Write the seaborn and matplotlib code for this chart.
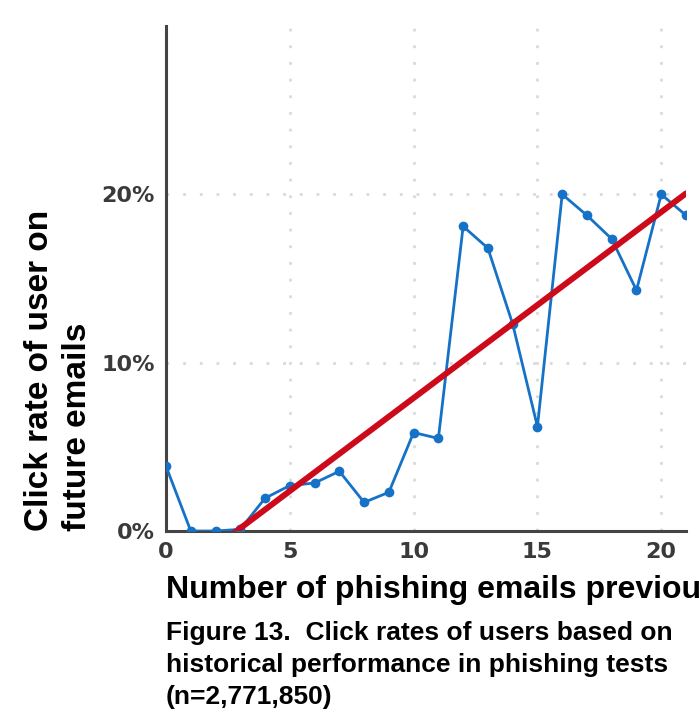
import numpy as np
import pandas as pd
import seaborn as sns
import matplotlib.pyplot as plt
from matplotlib.ticker import FuncFormatter

sns.set_theme(style="white")
plt.rcParams["font.family"] = ["Liberation Sans", "DejaVu Sans"]

# values (click rate in %)
emails_failed = list(range(22))
click_rate = [3.85, 0.0, 0.0, 0.1, 1.95, 2.7, 2.85, 3.55, 1.7, 2.3, 5.85, 5.5,
              18.1, 16.8, 12.3, 6.2, 20.0, 18.75, 17.35, 14.3, 20.0, 18.75]
trend_slope = 1.105
trend_intercept = -3.15

x_ticks = [0, 5, 10, 15, 20]
y_ticks = [0, 10, 20]

df = pd.DataFrame({"n": emails_failed, "rate": click_rate})
trend = pd.DataFrame({"n": [0, 21]})
trend["rate"] = trend_intercept + trend_slope * trend["n"]

fig = plt.figure(figsize=(6.99, 7.18), dpi=100)
ax = fig.add_axes([166 / 699, 1 - 531 / 718, (686 - 166) / 699, (531 - 26) / 718])

sns.lineplot(data=df, x="n", y="rate", ax=ax, color="#1572c6", linewidth=2,
             marker="o", markersize=7, markeredgewidth=0, zorder=3)
sns.lineplot(data=trend, x="n", y="rate", ax=ax, color="#cc0a1a", linewidth=4.3,
             zorder=4)

ax.set_xlim(0, 21)
ax.set_ylim(0, 30)
ax.set_xticks(x_ticks)
ax.set_yticks(y_ticks)
ax.yaxis.set_major_formatter(FuncFormatter(lambda v, p: f"{v:.0f}%"))
ax.grid(True, color="#d9d9d9", linestyle=(0, (1, 5)), linewidth=2)
ax.set_axisbelow(True)

for side in ["top", "right"]:
    ax.spines[side].set_visible(False)
for side in ["left", "bottom"]:
    ax.spines[side].set_color("#444444")
    ax.spines[side].set_linewidth(2.2)

ax.tick_params(axis="both", length=0, labelsize=16, labelcolor="#3a3a3a", pad=8)
for lab in ax.get_xticklabels() + ax.get_yticklabels():
    lab.set_fontfamily(["DejaVu Sans"])
    lab.set_fontweight("bold")

ax.set_xlabel("")
ax.set_ylabel("")

# y label, two lines, bottom-aligned with the x axis
fig.text(24 / 699, 1 - 531 / 718, "Click rate of user on\nfuture emails", rotation=90,
         ha="left", va="bottom", fontsize=24, fontweight="bold", color="black",
         linespacing=1.3)

# x label runs off the right edge, as in the source image
fig.text(166 / 699, 1 - 590 / 718, "Number of phishing emails previously failed",
         ha="left", va="center", fontsize=23, fontweight="bold", color="black")

fig.text(166 / 699, 1 - 621 / 718,
         "Figure 13.  Click rates of users based on\nhistorical performance in phishing tests\n(n=2,771,850)",
         ha="left", va="top", fontsize=19, fontweight="bold", color="black",
         linespacing=1.42)

fig.savefig("out.png", dpi=100)
